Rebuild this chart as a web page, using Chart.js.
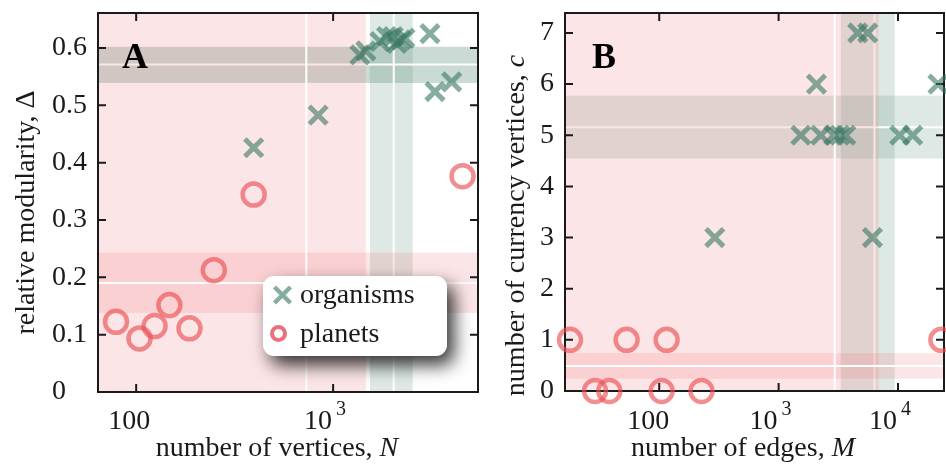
<!DOCTYPE html>
<html><head><meta charset="utf-8">
<script src="https://cdn.jsdelivr.net/npm/chart.js@4/dist/chart.umd.min.js"></script>
<style>
html,body{margin:0;padding:0;background:#fff;width:946px;height:466px;overflow:hidden}
#ca{position:absolute;left:0;top:0}
#cb{position:absolute;left:480px;top:0}
</style></head><body>
<canvas id="ca" width="480" height="466"></canvas>
<canvas id="cb" width="466" height="466"></canvas>
<script>
// ---------- data ----------
// Panel A: relative modularity vs number of vertices
const orgN     = [395, 839, 1367, 1466, 1728, 1868, 2018, 2108, 2208, 2315, 3102, 3289, 3999];
const orgDelta = [0.426, 0.483, 0.588, 0.595, 0.611, 0.620, 0.620, 0.608, 0.614, 0.617, 0.625, 0.524, 0.541];
const plaN     = [79, 104, 124, 147.5, 186.5, 248, 395, 4540];
const plaDelta = [0.1225, 0.0935, 0.115, 0.1516, 0.111, 0.2125, 0.3444, 0.3763];
// Panel B: currency vertices vs number of edges
const orgM = [1535, 2255, 2897, 3250, 3650, 10330, 13280, 2075, 21600, 4600, 5570, 292, 6110];
const orgC = [5, 5, 5, 5, 5, 5, 5, 6, 6, 7, 7, 3, 3];
const plaM = [17.9, 53.3, 115.3, 23080, 29.0, 38.2, 104.7, 226];
const plaC = [1, 1, 1, 1, 0, 0, 0, 0];
// tick values
const ticksAx = [100, 1000];
const ticksAy = [0, 0.1, 0.2, 0.3, 0.4, 0.5, 0.6];
const ticksBx = [100, 1000, 10000];
const ticksBy = [0, 1, 2, 3, 4, 5, 6, 7];
// bands [low, mean, high] (null = extends to the axis edge)
const bandAorgX = [1538, 2031, 2535];
const bandAorgY = [0.539, 0.571, 0.602];
const bandAplaX = [null, 731, 1466];
const bandAplaY = [0.138, 0.190, 0.243];
const bandBorgX = [3316, 6350, 9385];
const bandBorgY = [4.545, 5.156, 5.775];
const bandBplaX = [null, 2950, 6875];
const bandBplaY = [0.24, 0.49, 0.74];
const seriesNames = ['organisms', 'planets'];

// ---------- styling ----------
const SERIF = "'Liberation Serif', 'DejaVu Serif', serif";
const ORG_COL = 'rgba(55,118,98,0.6)';
const PLA_COL = 'rgba(235,80,85,0.65)';
const INK = '#1a1a1a';

function mixedText(ctx, parts, cx, baseline) {
  let total = 0;
  const ws = parts.map(p => { ctx.font = p[1]; const w = ctx.measureText(p[0]).width; total += w; return w; });
  let x = cx - total / 2;
  ctx.textAlign = 'left'; ctx.textBaseline = 'alphabetic';
  parts.forEach((p, i) => { ctx.font = p[1]; ctx.fillText(p[0], x, baseline); x += ws[i]; });
}

const decor = {
  id: 'decor',
  beforeDatasetsDraw(chart, args, o) {
    const {ctx, chartArea: ca, scales: {x, y}} = chart;
    const px = v => x.getPixelForValue(v);
    const py = v => y.getPixelForValue(v);
    ctx.save();
    ctx.beginPath(); ctx.rect(ca.left, ca.top, ca.right - ca.left, ca.bottom - ca.top); ctx.clip();
    const vb = (b, col) => { const x1 = b[0] == null ? ca.left : px(b[0]); const x2 = b[2] == null ? ca.right : px(b[2]); ctx.fillStyle = col; ctx.fillRect(x1, ca.top, x2 - x1, ca.bottom - ca.top); };
    const hb = (b, col) => { const y1 = py(b[2]), y2 = py(b[0]); ctx.fillStyle = col; ctx.fillRect(ca.left, y1, ca.right - ca.left, y2 - y1); };
    const lines = (bx, by) => {
      ctx.strokeStyle = '#ffffff'; ctx.lineWidth = 2;
      const X = px(bx[1]); ctx.beginPath(); ctx.moveTo(X, ca.top); ctx.lineTo(X, ca.bottom); ctx.stroke();
      const Y = py(by[1]); ctx.beginPath(); ctx.moveTo(ca.left, Y); ctx.lineTo(ca.right, Y); ctx.stroke();
    };
    vb(o.orgX, o.orgVCol); hb(o.orgY, o.orgHCol); lines(o.orgX, o.orgY);
    vb(o.plaX, o.plaCol); hb(o.plaY, o.plaCol); lines(o.plaX, o.plaY);
    ctx.restore();
    // frame + inward ticks
    ctx.save();
    ctx.strokeStyle = INK; ctx.lineWidth = 2;
    ctx.strokeRect(ca.left, ca.top, ca.right - ca.left, ca.bottom - ca.top);
    const TL = 8;
    ctx.beginPath();
    x.ticks.forEach(t => { const X = px(t.value); ctx.moveTo(X, ca.top); ctx.lineTo(X, ca.top + TL); ctx.moveTo(X, ca.bottom); ctx.lineTo(X, ca.bottom - TL); });
    y.ticks.forEach(t => { const Y = py(t.value); ctx.moveTo(ca.left, Y); ctx.lineTo(ca.left + TL, Y); ctx.moveTo(ca.right, Y); ctx.lineTo(ca.right - TL, Y); });
    ctx.stroke();
    ctx.restore();
  },
  afterDatasetsDraw(chart, args, o) {
    const {ctx} = chart;
    ctx.save();
    if (o.legend) {
      const L = o.legend;
      ctx.save();
      ctx.shadowColor = 'rgba(0,0,0,0.8)'; ctx.shadowBlur = 18; ctx.shadowOffsetX = 7; ctx.shadowOffsetY = 9;
      ctx.fillStyle = '#ffffff';
      ctx.beginPath(); ctx.roundRect(L.x, L.y, L.w, L.h, 11); ctx.fill();
      ctx.restore();
      // organisms marker
      ctx.lineWidth = 4.5; ctx.strokeStyle = ORG_COL;
      const cx = L.x + 19.5, cy = L.y + 19, r = 8;
      ctx.beginPath(); ctx.moveTo(cx - r, cy - r); ctx.lineTo(cx + r, cy + r); ctx.moveTo(cx - r, cy + r); ctx.lineTo(cx + r, cy - r); ctx.stroke();
      // planets marker
      ctx.lineWidth = 4; ctx.strokeStyle = 'rgba(228,80,95,0.82)';
      ctx.beginPath(); ctx.arc(L.x + 15.5, L.y + 57.5, 6.5, 0, Math.PI * 2); ctx.stroke();
      ctx.fillStyle = INK; ctx.font = '28px ' + SERIF; ctx.textAlign = 'left'; ctx.textBaseline = 'alphabetic';
      ctx.fillText(seriesNames[0], L.x + 37, L.y + 27);
      ctx.fillText(seriesNames[1], L.x + 37, L.y + 65.5);
    }
    ctx.fillStyle = '#000'; ctx.font = 'bold 36px ' + SERIF; ctx.textAlign = 'left'; ctx.textBaseline = 'alphabetic';
    ctx.fillText(o.letter, o.letterX, 68);
    ctx.restore();
  },
  afterDraw(chart, args, o) {
    const {ctx, scales: {x}} = chart;
    ctx.save();
    ctx.fillStyle = INK; ctx.textBaseline = 'alphabetic';
    x.ticks.forEach(t => {
      const X = x.getPixelForValue(t.value);
      const e = Math.round(Math.log10(t.value));
      if (t.value < 1000) {
        ctx.font = '28px ' + SERIF; ctx.textAlign = 'center';
        ctx.fillText(String(t.value), X + o.smallOff, 429);
      } else {
        ctx.font = '28px ' + SERIF; ctx.textAlign = 'right';
        ctx.fillText('10', X - 1, 429);
        ctx.font = '20px ' + SERIF; ctx.textAlign = 'left';
        ctx.fillText(String(e), X + 3, 415);
      }
    });
    // x title
    mixedText(ctx, o.xTitle.map(p => [p[0], (p[1] ? 'italic ' : '') + '28px ' + SERIF]), o.xTitleCx, 456);
    // y title (rotated)
    ctx.save();
    ctx.translate(o.yTitleX, o.yTitleCy);
    ctx.rotate(-Math.PI / 2);
    mixedText(ctx, o.yTitle.map(p => [p[0], (p[1] ? 'italic ' : '') + '28px ' + SERIF]), 0, 0);
    ctx.restore();
    ctx.restore();
  }
};

function panel(canvasId, cfg) {
  const datasets = [
    { label: seriesNames[1], data: cfg.plaX.map((v, i) => ({x: v, y: cfg.plaY[i]})), pointStyle: 'circle', pointRadius: 11, pointBorderWidth: 4.5,
      borderColor: PLA_COL, pointBorderColor: PLA_COL, backgroundColor: 'rgba(0,0,0,0)', pointBackgroundColor: 'rgba(0,0,0,0)', clip: false },
    { label: seriesNames[0], data: cfg.orgX.map((v, i) => ({x: v, y: cfg.orgY[i]})), pointStyle: 'crossRot', pointRadius: 12.5, pointBorderWidth: 5,
      borderColor: ORG_COL, pointBorderColor: ORG_COL, backgroundColor: 'rgba(0,0,0,0)', pointBackgroundColor: 'rgba(0,0,0,0)', clip: false }
  ];
  return new Chart(document.getElementById(canvasId), {
    type: 'scatter',
    data: { datasets },
    options: {
      responsive: false, animation: false, devicePixelRatio: 1, events: [],
      layout: { padding: cfg.padding, autoPadding: false },
      scales: {
        x: { type: 'logarithmic', position: 'bottom', min: cfg.xMin, max: cfg.xMax,
             afterBuildTicks: s => { s.ticks = cfg.xTicks.map(v => ({value: v})); },
             afterFit: s => { s.height = cfg.xAxisH; s.paddingLeft = 0; s.paddingRight = 0; },
             ticks: { display: false }, grid: { display: false }, border: { display: false } },
        y: { type: 'linear', position: 'left', min: 0, max: cfg.yMax,
             afterBuildTicks: s => { s.ticks = cfg.yTicks.map(v => ({value: v})); },
             afterFit: s => { s.width = cfg.yAxisW; s.paddingTop = 0; s.paddingBottom = 0; },
             ticks: { display: true, crossAlign: 'far', padding: 0, color: INK, autoSkip: false,
                      font: { family: SERIF, size: 28 }, callback: cfg.yFmt },
             grid: { display: false }, border: { display: false } }
      },
      plugins: { legend: { display: false }, tooltip: { enabled: false }, decor: cfg.decor }
    },
    plugins: [decor]
  });
}

panel('ca', {
  plaX: plaN, plaY: plaDelta, orgX: orgN, orgY: orgDelta,
  xMin: 64.0, xMax: 5440, yMax: 0.661, xTicks: ticksAx, yTicks: ticksAy,
  yFmt: v => v === 0 ? '0' : v.toFixed(1),
  padding: { left: 52, top: 13, right: 2, bottom: 0 }, yAxisW: 46, xAxisH: 74,
  decor: {
    orgX: bandAorgX, orgY: bandAorgY, plaX: bandAplaX, plaY: bandAplaY,
    orgVCol: 'rgba(90,140,120,0.2)', orgHCol: 'rgba(90,140,120,0.32)', plaCol: 'rgba(240,110,115,0.18)',
    letter: 'A', letterX: 122,
    legend: { x: 263, y: 276, w: 184, h: 80 },
    smallOff: -7,
    xTitle: [['number of vertices, ', false], ['N', true]], xTitleCx: 277,
    yTitle: [['relative modularity, Δ', false]], yTitleX: 34, yTitleCy: 212.5
  }
});

panel('cb', {
  plaX: plaM, plaY: plaC, orgX: orgM, orgY: orgC,
  xMin: 16.25, xMax: 24270, yMax: 7.39, xTicks: ticksBx, yTicks: ticksBy,
  yFmt: v => String(v),
  padding: { left: 60, top: 13, right: 2, bottom: 0 }, yAxisW: 25, xAxisH: 75,
  decor: {
    orgX: bandBorgX, orgY: bandBorgY, plaX: bandBplaX, plaY: bandBplaY,
    orgVCol: 'rgba(90,140,120,0.2)', orgHCol: 'rgba(90,140,120,0.2)', plaCol: 'rgba(240,110,115,0.18)',
    letter: 'B', letterX: 112,
    legend: null,
    smallOff: -11,
    xTitle: [['number of edges, ', false], ['M', true]], xTitleCx: 263,
    yTitle: [['number of currency vertices, ', false], ['c', true]], yTitleX: 44, yTitleCy: 225.5
  }
});
</script>
</body></html>
